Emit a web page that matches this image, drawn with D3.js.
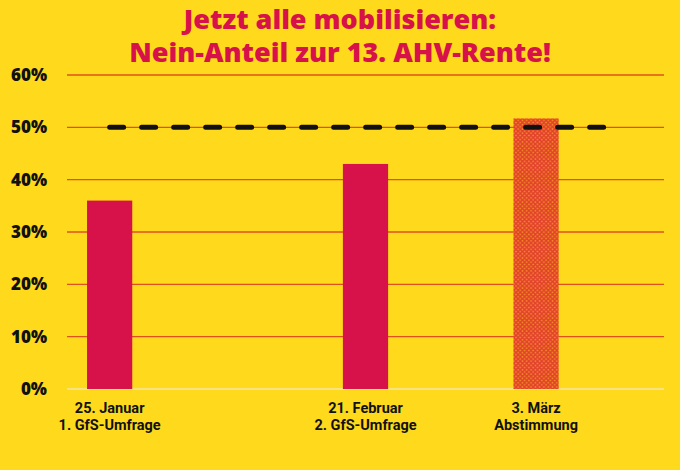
<!DOCTYPE html>
<html>
<head>
<meta charset="utf-8">
<script src="https://cdn.jsdelivr.net/npm/d3@7"></script>
<style>
  html, body { margin: 0; padding: 0; background: #FFD91C; }
  svg { display: block; }
</style>
</head>
<body>
<div id="chart"></div>
<script>
// chart data
const dates = ["25. Januar", "21. Februar", "3. März"];
const subLabels = ["1. GfS-Umfrage", "2. GfS-Umfrage", "Abstimmung"];
const slots = [0, 3, 5];          // position of each bar among 7 slots
const neinShare = [36, 43, 51.7]; // percent
const projected = [false, false, true];
const yTicks = [0, 10, 20, 30, 40, 50, 60];
const threshold = 50;
const titleLines = ["Jetzt alle mobilisieren:", "Nein-Anteil zur 13. AHV-Rente!"];

const width = 680;
const height = 470;
const margin = { top: 75, right: 16, bottom: 81, left: 67 };

const red = "#D7114A";
const grid = "#E0501E";

const svg = d3.select("#chart")
  .append("svg")
  .attr("width", width)
  .attr("height", height);

svg.append("rect")
  .attr("width", width)
  .attr("height", height)
  .attr("fill", "#FFD91C");

// crosshatch pattern for the vote bar
const defs = svg.append("defs");
const pat = defs.append("pattern")
  .attr("id", "hatch")
  .attr("patternUnits", "userSpaceOnUse")
  .attr("width", 4.3)
  .attr("height", 4.3);
pat.append("rect").attr("width", 4.3).attr("height", 4.3).attr("fill", "#F28A22");
pat.append("path")
  .attr("d", "M0,0L4.3,4.3M4.3,0L0,4.3")
  .attr("stroke", "#E2402E")
  .attr("stroke-width", 1.4);

const slotX = d3.scaleBand()
  .domain(d3.range(7))
  .range([margin.left, width - margin.right]);

const y = d3.scaleLinear()
  .domain([0, 60])
  .range([height - margin.bottom, margin.top]);

// gridlines
svg.append("g")
  .selectAll("line")
  .data(yTicks)
  .enter()
  .append("line")
  .attr("x1", margin.left)
  .attr("x2", width - margin.right)
  .attr("y1", d => y(d))
  .attr("y2", d => y(d))
  .attr("stroke", d => d === 0 ? "#F3E6A6" : grid)
  .attr("stroke-width", 1.4);

// y labels
svg.append("g")
  .selectAll("text")
  .data(yTicks)
  .enter()
  .append("text")
  .attr("x", 47)
  .attr("y", d => y(d))
  .attr("dy", "0.36em")
  .attr("text-anchor", "end")
  .style("font-family", "Open Sans")
  .style("font-weight", 800)
  .style("font-size", "17px")
  .attr("fill", "#111")
  .text(d => d + "%");

// bars
const barW = slotX.bandwidth() * 0.53;
svg.append("g")
  .selectAll("rect")
  .data(neinShare)
  .enter()
  .append("rect")
  .attr("x", (d, i) => slotX(slots[i]) + (slotX.bandwidth() - barW) / 2)
  .attr("y", d => y(d))
  .attr("width", barW)
  .attr("height", d => y(0) - y(d))
  .attr("fill", (d, i) => projected[i] ? "url(#hatch)" : red);

// 50% line
svg.append("line")
  .attr("x1", slotX(0) + slotX.bandwidth() / 2)
  .attr("x2", slotX(6) + slotX.bandwidth() / 2)
  .attr("y1", y(threshold))
  .attr("y2", y(threshold))
  .attr("stroke", "#111")
  .attr("stroke-width", 5)
  .attr("stroke-linecap", "round")
  .attr("stroke-dasharray", "14 18");

// x labels, two lines each
const cx = i => slotX(slots[i]) + slotX.bandwidth() / 2;
const xg = svg.append("g")
  .style("font-family", "Roboto")
  .style("font-weight", 700)
  .style("font-size", "14.5px")
  .attr("fill", "#111")
  .attr("text-anchor", "middle");
xg.selectAll("text.date")
  .data(dates)
  .enter()
  .append("text")
  .attr("class", "date")
  .attr("x", (d, i) => cx(i))
  .attr("y", 412.5)
  .text(d => d);
xg.selectAll("text.sub")
  .data(subLabels)
  .enter()
  .append("text")
  .attr("class", "sub")
  .attr("x", (d, i) => cx(i))
  .attr("y", 429.5)
  .text(d => d);

// title
svg.append("g")
  .selectAll("text")
  .data(titleLines)
  .enter()
  .append("text")
  .attr("x", width / 2)
  .attr("y", (d, i) => 28.5 + i * 33.5)
  .attr("text-anchor", "middle")
  .style("font-family", "Open Sans")
  .style("font-weight", 800)
  .style("font-size", "27px")
  .attr("fill", red)
  .text(d => d);
</script>
</body>
</html>
